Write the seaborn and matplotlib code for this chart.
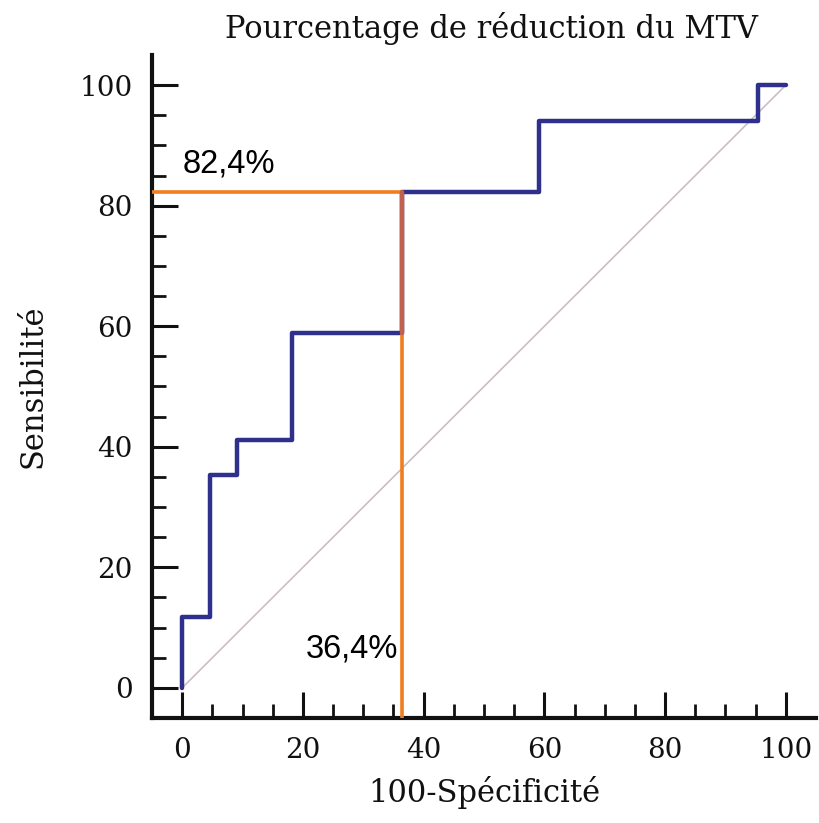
import numpy as np
import matplotlib
matplotlib.use("Agg")
import matplotlib.pyplot as plt
import seaborn as sns

# ROC step vertices (100-specificity, sensitivity)
fpr = [0, 0, 4.55, 9.09, 18.18, 36.36, 59.09, 95.45, 100]
tpr = [0, 11.76, 35.29, 41.18, 58.82, 82.35, 94.12, 100, 100]

cut_x = 36.36
cut_y = 82.35
cut_x_label = "36,4%"
cut_y_label = "82,4%"

title = "Pourcentage de réduction du MTV"
xlabel = "100-Spécificité"
ylabel = "Sensibilité"

sns.set_style("ticks")
plt.rcParams["font.family"] = ["DejaVu Serif"]
plt.rcParams["text.color"] = "#111111"
plt.rcParams["axes.labelcolor"] = "#111111"
plt.rcParams["xtick.color"] = "#111111"
plt.rcParams["ytick.color"] = "#111111"

fig = plt.figure(figsize=(8.19, 8.23), dpi=100)
ax = fig.add_axes([152 / 819, 105 / 823, 664 / 819, 663 / 823])

# reference diagonal
sns.lineplot(x=[0, 100], y=[0, 100], color="#cdbcc8", linewidth=1.2, ax=ax)

# roc curve
sns.lineplot(x=fpr, y=tpr, sort=False, estimator=None, drawstyle="steps-post",
             color="#2f2f8c", linewidth=3.2, ax=ax)

# cut-off lines
ax.plot([-5, cut_x], [cut_y, cut_y], color="#f07d1e", linewidth=2.6, zorder=5)
ax.plot([cut_x, cut_x], [-5, 58.82], color="#f07d1e", linewidth=2.6, zorder=5)
ax.plot([cut_x, cut_x], [58.82, cut_y], color="#c0604f", linewidth=3.2, zorder=5)

ax.text(0, 85.5, cut_y_label, family="Liberation Sans", fontsize=23.5,
        ha="left", va="baseline", color="black")
ax.text(35.8, 5.1, cut_x_label, family="Liberation Sans", fontsize=23.5,
        ha="right", va="baseline", color="black")

ax.set_xlim(-5, 105)
ax.set_ylim(-5, 105)
ax.set_xticks(np.arange(0, 101, 20))
ax.set_yticks(np.arange(0, 101, 20))
ax.set_xticks(np.arange(0, 101, 5), minor=True)
ax.set_yticks(np.arange(0, 101, 5), minor=True)

ax.tick_params(which="major", direction="in", length=19, width=2.2,
               labelsize=20, pad=14)
ax.tick_params(which="minor", direction="in", length=10, width=2.0)

sns.despine(ax=ax)
for side in ["left", "bottom"]:
    ax.spines[side].set_linewidth(3)
    ax.spines[side].set_color("#111111")

ax.set_title(title, fontsize=22, x=0.512, pad=12)
ax.set_xlabel(xlabel, fontsize=22, labelpad=8)
ax.set_ylabel(ylabel, fontsize=22, labelpad=22)

fig.savefig("out.png", dpi=100)
